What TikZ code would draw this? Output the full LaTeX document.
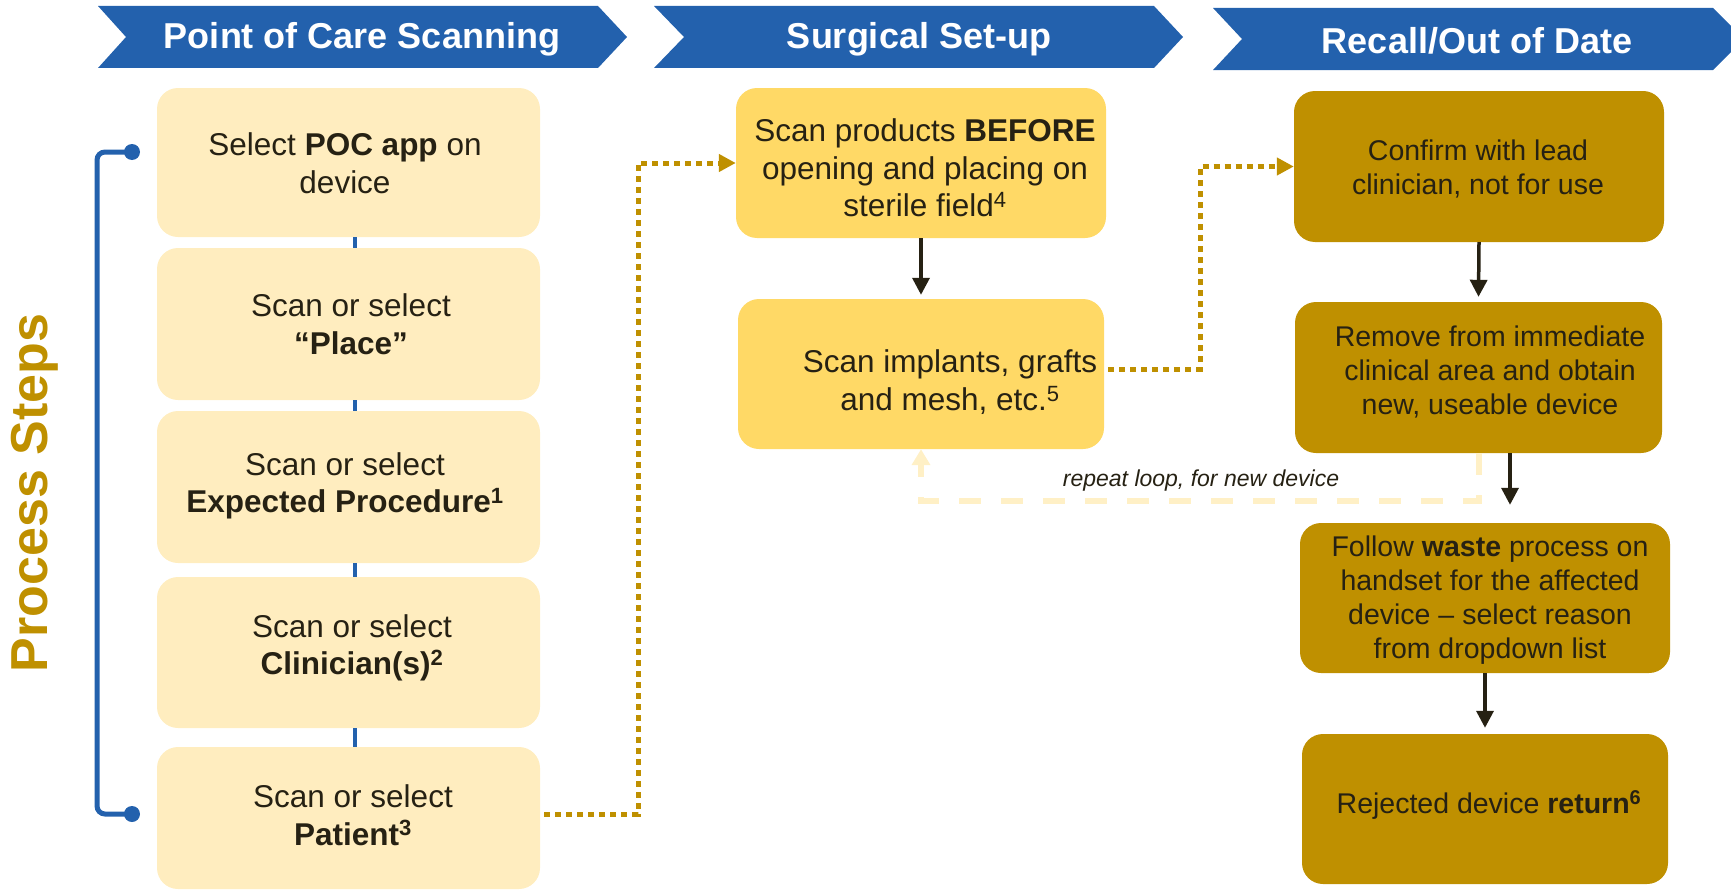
\documentclass[tikz,border=0pt]{standalone}
\usepackage{fontspec}
\setmainfont{Liberation Sans}
\usetikzlibrary{arrows.meta}
\definecolor{bannerblue}{HTML}{2361AD}
\definecolor{cream}{HTML}{FFEDBF}
\definecolor{yel}{HTML}{FFD966}
\definecolor{dgold}{HTML}{BF9000}
\definecolor{loopc}{HTML}{FFF0C6}
\definecolor{txt}{HTML}{262113}
\begin{document}
\begin{tikzpicture}[x=1pt,y=-1pt,
  bannershape/.style={fill=bannerblue},
  btext/.style={text=white,font=\fontsize{36}{40}\selectfont\bfseries,inner sep=0pt},
  boxbase/.style={rectangle,rounded corners=21pt,inner sep=0pt,draw=none},
  creambox/.style={boxbase,fill=cream,minimum width=383pt},
  yelbox/.style={boxbase,fill=yel},
  goldbox/.style={boxbase,fill=dgold},
  bigtext/.style={text=txt,align=center,inner sep=0pt,font=\fontsize{31.5}{37.5}\selectfont},
  smalltext/.style={text=txt,align=center,inner sep=0pt,font=\fontsize{28.5}{34}\selectfont},
  bluec/.style={draw=bannerblue,line width=4pt},
  bracketline/.style={draw=bannerblue,line width=5pt,rounded corners=8pt},
  bluedot/.style={circle,fill=bannerblue,minimum size=16pt,inner sep=0pt},
  barrow/.style={draw=txt,line width=3.5pt,-{Triangle[length=17pt,width=17pt]}},
  gdot/.style={draw=dgold,line width=5pt,dash pattern=on 6pt off 5pt,-{Triangle[length=17pt,width=17pt]}},
  loopline/.style={draw=loopc,line width=6pt,dash pattern=on 22pt off 20pt,-{Triangle[length=16pt,width=18pt]}},
  looptext/.style={text=txt,inner sep=0pt,font=\fontsize{23}{26}\selectfont\itshape},
  pstext/.style={text=dgold,rotate=90,inner sep=0pt,font=\fontsize{52}{56}\selectfont\bfseries}
]
\useasboundingbox (0,0) rectangle (1731,891);

% banners
\fill[bannershape] (98,6) -- (598,6) -- (627,37) -- (598,68) -- (98,68) -- (126,37) -- cycle;
\fill[bannershape] (654,6) -- (1154,6) -- (1183,37) -- (1154,68) -- (654,68) -- (684,37) -- cycle;
\fill[bannershape] (1213,8) -- (1713,8) -- (1744,39) -- (1713,70) -- (1213,70) -- (1242,39) -- cycle;
\node[btext] (h1) at (362,39) {Point of Care Scanning};
\node[btext] (h2) at (919,39) {Surgical Set-up};
\node[btext] (h3) at (1477,41) {Recall/Out of Date};

% process steps label
\node[pstext] (ps) at (35,493) {Process Steps};

% column 1 boxes
\node[creambox,minimum height=149pt] (b1) at (348.5,162.5) {};
\node[creambox,minimum height=152pt] (b2) at (348.5,324) {};
\node[creambox,minimum height=152pt] (b3) at (348.5,487) {};
\node[creambox,minimum height=151pt] (b4) at (348.5,652.5) {};
\node[creambox,minimum height=142pt] (b5) at (348.5,818) {};

\draw[bluec] ([xshift=6.5pt]b1.south) -- ([xshift=6.5pt]b2.north);
\draw[bluec] ([xshift=6.5pt]b2.south) -- ([xshift=6.5pt]b3.north);
\draw[bluec] ([xshift=6.5pt]b3.south) -- ([xshift=6.5pt]b4.north);
\draw[bluec] ([xshift=6.5pt]b4.south) -- ([xshift=6.5pt]b5.north);

\node[bigtext] (t1) at (345,163) {Select \textbf{POC app} on\\device};
\node[bigtext] (t2) at (351,324) {Scan or select\\\textbf{“Place”}};
\node[bigtext] (t3) at (345,486) {Scan or select\\\textbf{Expected Procedure\textsuperscript{1}}};
\node[bigtext] (t4) at (352,648) {Scan or select\\\textbf{Clinician(s)\textsuperscript{2}}};
\node[bigtext] (t5) at (353,815) {Scan or select\\\textbf{Patient\textsuperscript{3}}};

% bracket
\node[bluedot] (d1) at (132,152) {};
\node[bluedot] (d2) at (132,814) {};
\coordinate (bx) at (97,0);
\draw[bracketline] (d1.center) -| (d2.center -| bx) -- (d2.center);

% column 2 boxes
\node[yelbox,minimum width=370pt,minimum height=150pt] (bA) at (921,163) {};
\node[yelbox,minimum width=366pt,minimum height=150pt] (bB) at (921,374) {};
\node[bigtext] (tA) at (925,168) {Scan products \textbf{BEFORE}\\opening and placing on\\sterile field\textsuperscript{4}};
\node[bigtext] (tB) at (950,382) {Scan implants, grafts\\and mesh, etc.\textsuperscript{5}};

% column 3 boxes
\node[goldbox,minimum width=370pt,minimum height=151pt] (bC) at (1479,166.5) {};
\node[goldbox,minimum width=367pt,minimum height=151pt] (bD) at (1478.5,377.5) {};
\node[goldbox,minimum width=370pt,minimum height=150pt] (bE) at (1485,598) {};
\node[goldbox,minimum width=366pt,minimum height=150pt] (bF) at (1485,809) {};
\node[smalltext] (tC) at (1478,169) {Confirm with lead\\clinician, not for use};
\node[smalltext] (tD) at (1490,372) {Remove from immediate\\clinical area and obtain\\new, useable device};
\node[smalltext] (tE) at (1490,600) {Follow \textbf{waste} process on\\handset for the affected\\device – select reason\\from dropdown list};
\node[smalltext] (tF) at (1489,805) {Rejected device \textbf{return\textsuperscript{6}}};

% black arrows
\draw[barrow] (bA.south) -- ([yshift=4pt]bB.north);
\draw[barrow] (bC.south) -- ([yshift=5pt]bD.north);
\draw[barrow] ([xshift=31.5pt]bD.south) -- ([xshift=25pt,yshift=18pt]bE.north);
\draw[barrow] (bE.south) -- ([yshift=6pt]bF.north);

% dotted gold connectors
\coordinate (k1) at (638,0);
\coordinate (k2) at (1200,0);
\draw[gdot,shorten <=4pt] ([yshift=4pt]b5.east) -| (k1 |- bA.west) -- (bA.west);
\draw[gdot,shorten <=4pt] ([yshift=5pt]bB.east) -| (k2 |- bC.west) -- (bC.west);

% repeat loop
\draw[loopline] (bD.south) -- ++(0,48) -| (bB.south);
\node[looptext] (lt) at (1201,481) {repeat loop, for new device};
\end{tikzpicture}
\end{document}
